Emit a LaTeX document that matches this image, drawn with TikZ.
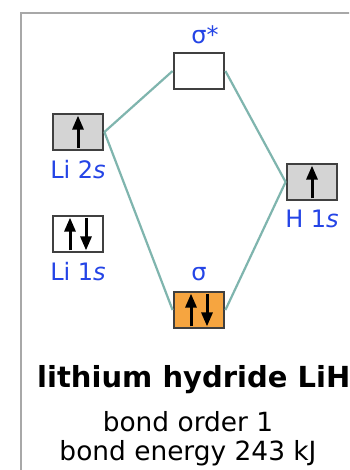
\documentclass[tikz,border=0pt]{standalone}
\usepackage{fontspec}
\setmainfont{DejaVu Sans}
\usetikzlibrary{arrows.meta,positioning}
\definecolor{LinkTeal}{HTML}{7FB5AE}
\definecolor{LabelBlue}{HTML}{2444E6}
\definecolor{OrbGray}{HTML}{D4D4D4}
\definecolor{OrbOrange}{HTML}{F6A540}
\definecolor{FrameGray}{HTML}{A8A8A8}
\tikzset{
  % Orbital box
  orb/.style={rectangle,draw=black!75,line width=2.8pt,
              minimum width=50pt,minimum height=36pt,inner sep=0pt},
  orbW/.style={orb,fill=white},
  orbG/.style={orb,fill=OrbGray},
  orbO/.style={orb,fill=OrbOrange},
  % Labels
  lbl/.style={text=LabelBlue,inner sep=0pt,font=\fontsize{24}{28}\selectfont},
  % Lines and electrons
  link/.style={LinkTeal,line width=2.2pt},
  el/.style={-{Triangle[length=14pt,width=11pt]},line width=3pt}
}

\begin{document}
\begin{tikzpicture}[x=1pt,y=-1pt]
  \clip (0,0) rectangle (349,470);
  \fill[white] (0,0) rectangle (349,470);
  % frame, cut by the page edge
  \draw[FrameGray,line width=2.6pt] (21,480) |- (360,13);

  % orbitals
  \node[orbG] (li2s)  at (78,132)  {};
  \node[orbW] (li1s)  at (78,234)  {};
  \node[orbW] (sstar) at (199,71)  {};
  \node[orbO] (sig)   at (199,310) {};
  \node[orbG] (h1s)   at (312,182) {};

  \node[lbl,below=9pt of li2s] (li2slbl) {Li 2\textit{s}};
  \node[lbl,below=9pt of li1s] (li1slbl) {Li 1\textit{s}};
  \node[lbl,below=8pt of h1s]  (h1slbl)  {H 1\textit{s}};
  \node[lbl,above=8pt of sstar] (sstarlbl) {σ\rlap{*}};
  \node[lbl,above=10pt of sig]  (siglbl)  {σ};

  % correlation lines
  \draw[link] (li2s.east) -- (sstar.west);
  \draw[link] (li2s.east) -- (sig.west);
  \draw[link] (sstar.east) -- (h1s.west);
  \draw[link] (h1s.west) -- (sig.east);

  % electrons
  \draw[el] ([yshift=3pt]li2s.south) -- ([yshift=-3pt]li2s.north);
  \draw[el] ([yshift=3pt]h1s.south) -- ([yshift=-3pt]h1s.north);
  \draw[el] ([xshift=-8pt,yshift=3pt]li1s.south) -- ([xshift=-8pt,yshift=-3pt]li1s.north);
  \draw[el] ([xshift=8pt,yshift=-3pt]li1s.north) -- ([xshift=8pt,yshift=3pt]li1s.south);
  \draw[el] ([xshift=-8pt,yshift=3pt]sig.south) -- ([xshift=-8pt,yshift=-3pt]sig.north);
  \draw[el] ([xshift=8pt,yshift=-3pt]sig.north) -- ([xshift=8pt,yshift=3pt]sig.south);

  % caption
  \node[anchor=base west,inner sep=0pt,font=\bfseries\fontsize{29}{34}\selectfont]
    (title) at (37,387) {lithium hydride LiH};
  \node[anchor=base,inner sep=0pt,font=\fontsize{26.4}{30}\selectfont]
    (order) at (188,431) {bond order 1};
  \node[anchor=base,inner sep=0pt,font=\fontsize{26.4}{30}\selectfont]
    (energy) at (188,460) {bond energy 243 kJ};
\end{tikzpicture}
\end{document}
